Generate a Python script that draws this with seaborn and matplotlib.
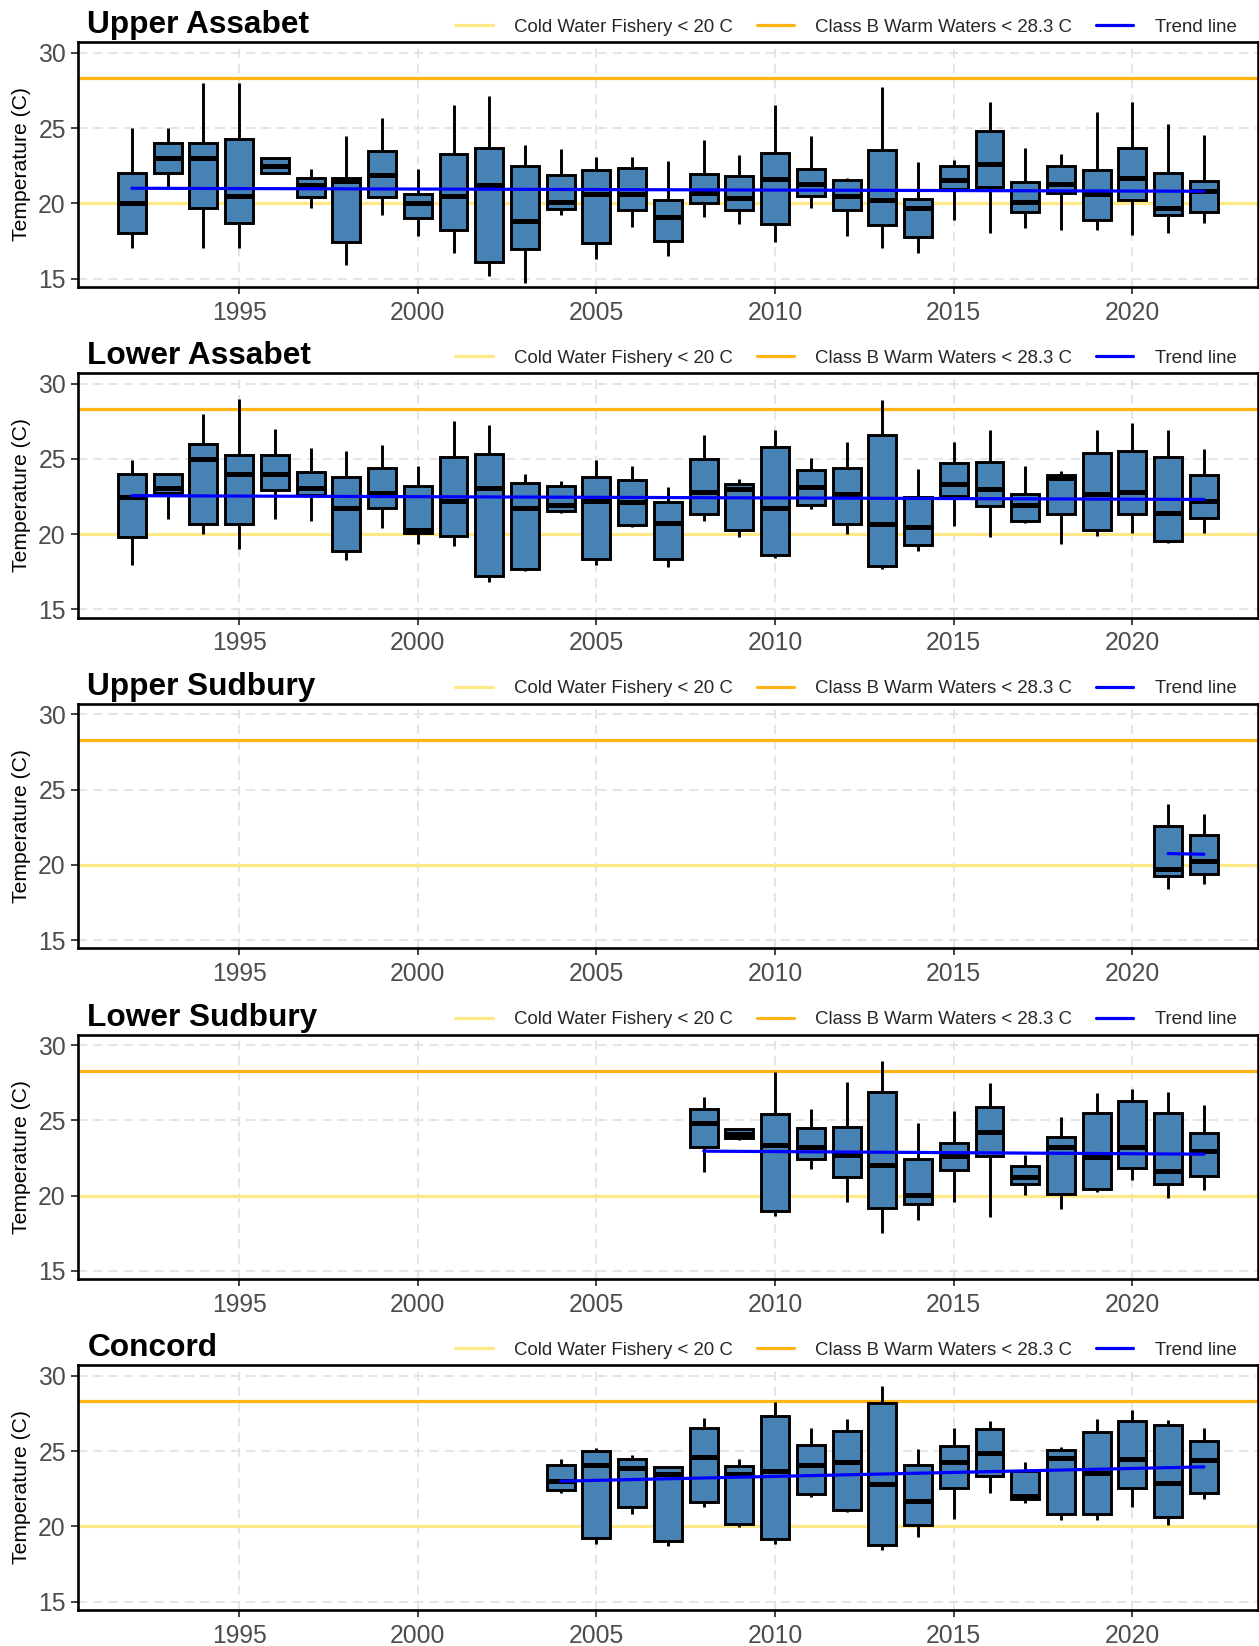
"""
Water temperature by year at five river sites.
Box = summer temperature distribution per year, with standards and a trend line.
"""

import numpy as np
import pandas as pd
import matplotlib
matplotlib.use('Agg')
import matplotlib.pyplot as plt
from matplotlib.lines import Line2D
import seaborn as sns

# --- 1. Data ---
# each row: [low whisker, q1, median, q3, high whisker]
site_names = ['Upper Assabet', 'Lower Assabet', 'Upper Sudbury', 'Lower Sudbury', 'Concord']

upper_assabet_start = 1992
upper_assabet_stats = [
    [17.0, 18.0, 20.0, 22.0, 25.0], [21.0, 22.0, 23.0, 24.0, 25.0],
    [17.0, 19.7, 23.0, 24.0, 28.0], [17.0, 18.7, 20.5, 24.3, 28.0],
    [22.0, 22.0, 22.5, 23.0, 23.0], [19.7, 20.4, 21.2, 21.7, 22.3],
    [15.9, 17.4, 21.5, 21.7, 24.5], [19.2, 20.4, 21.9, 23.5, 25.7],
    [17.8, 19.0, 20.0, 20.6, 22.3], [16.7, 18.2, 20.5, 23.3, 26.5],
    [15.2, 16.1, 21.2, 23.7, 27.1], [14.7, 16.95, 18.8, 22.5, 23.85],
    [19.2, 19.6, 20.1, 21.85, 23.6], [16.3, 17.35, 20.65, 22.2, 23.1],
    [18.4, 19.55, 20.65, 22.35, 23.05], [16.5, 17.5, 19.1, 20.25, 22.8],
    [19.1, 20.0, 20.7, 21.95, 24.2], [18.6, 19.55, 20.35, 21.8, 23.2],
    [17.4, 18.6, 21.6, 23.35, 26.5], [19.7, 20.5, 21.3, 22.3, 24.5],
    [17.8, 19.55, 20.5, 21.55, 21.7], [17.0, 18.55, 20.25, 23.55, 27.7],
    [16.7, 17.75, 19.7, 20.3, 22.75], [18.9, 20.95, 21.55, 22.5, 22.9],
    [18.0, 21.1, 22.6, 24.8, 26.7], [18.35, 19.4, 20.1, 21.4, 23.65],
    [18.2, 20.7, 21.3, 22.5, 23.3], [18.2, 18.9, 20.65, 22.2, 26.1],
    [17.9, 20.2, 21.7, 23.7, 26.7], [18.0, 19.2, 19.7, 22.0, 25.3],
    [18.7, 19.4, 20.8, 21.5, 24.55],
]
upper_assabet_trend = [21.0, 20.8]

lower_assabet_start = 1992
lower_assabet_stats = [
    [17.95, 19.8, 22.45, 24.0, 24.95], [21.0, 22.7, 23.05, 24.0, 24.0],
    [20.0, 20.7, 25.0, 26.0, 28.0], [19.0, 20.7, 24.0, 25.25, 29.0],
    [21.0, 22.9, 24.0, 25.25, 27.0], [20.9, 22.6, 23.05, 24.15, 25.75],
    [18.3, 18.9, 21.75, 23.8, 25.55], [20.4, 21.75, 22.7, 24.4, 25.95],
    [19.35, 20.1, 20.25, 23.2, 24.5], [19.2, 19.85, 22.2, 25.1, 27.5],
    [16.8, 17.2, 23.05, 25.35, 27.25], [17.55, 17.65, 21.75, 23.4, 24.0],
    [21.4, 21.5, 21.9, 23.2, 23.55], [17.95, 18.35, 22.2, 23.8, 24.95],
    [20.45, 20.6, 22.1, 23.6, 24.5], [17.8, 18.35, 20.75, 22.1, 23.15],
    [20.9, 21.3, 22.8, 25.0, 26.55], [19.8, 20.25, 23.0, 23.35, 23.65],
    [18.4, 18.6, 21.75, 25.8, 26.9], [21.65, 21.95, 23.1, 24.25, 25.05],
    [20.0, 20.65, 22.65, 24.4, 26.1], [17.65, 17.9, 20.7, 26.55, 28.9],
    [18.85, 19.3, 20.45, 22.45, 24.3], [20.55, 22.55, 23.35, 24.7, 26.1],
    [19.8, 21.85, 23.0, 24.8, 26.9], [20.75, 20.9, 21.9, 22.65, 24.5],
    [19.35, 21.3, 23.7, 23.9, 24.2], [19.85, 20.25, 22.65, 25.4, 26.9],
    [20.1, 21.3, 22.8, 25.5, 27.35], [19.4, 19.55, 21.4, 25.1, 26.9],
    [20.1, 21.05, 22.2, 23.9, 25.65],
]
lower_assabet_trend = [22.55, 22.3]

upper_sudbury_start = 2021
upper_sudbury_stats = [
    [18.4, 19.25, 19.75, 22.6, 24.05], [18.75, 19.4, 20.25, 22.0, 23.35],
]
upper_sudbury_trend = [20.75, 20.7]

lower_sudbury_start = 2008
lower_sudbury_stats = [
    [21.55, 23.2, 24.85, 25.75, 26.55], [23.7, 23.85, 24.1, 24.4, 24.4],
    [18.65, 18.95, 23.35, 25.4, 28.2], [21.75, 22.4, 23.25, 24.5, 25.75],
    [19.55, 21.2, 22.7, 24.55, 27.55], [17.5, 19.2, 22.0, 26.9, 28.95],
    [18.4, 19.45, 20.05, 22.4, 24.8], [19.55, 21.7, 22.6, 23.5, 25.6],
    [18.55, 22.6, 24.25, 25.9, 27.45], [20.05, 20.75, 21.2, 21.95, 22.7],
    [19.1, 20.1, 23.25, 23.9, 25.2], [20.25, 20.45, 22.55, 25.5, 26.8],
    [21.05, 21.8, 23.25, 26.3, 27.05], [19.85, 20.8, 21.6, 25.5, 26.9],
    [20.35, 21.3, 22.95, 24.15, 26.05],
]
lower_sudbury_trend = [22.95, 22.75]

concord_start = 2004
concord_stats = [
    [22.2, 22.4, 23.0, 24.05, 24.5], [18.8, 19.2, 24.05, 25.0, 25.2],
    [20.85, 21.3, 23.9, 24.45, 24.75], [18.7, 19.0, 23.45, 23.95, 23.95],
    [21.25, 21.6, 24.6, 26.5, 27.2], [19.95, 20.15, 23.45, 24.0, 24.45],
    [18.8, 19.15, 23.7, 27.3, 28.25], [21.95, 22.15, 24.1, 25.4, 26.5],
    [20.95, 21.1, 24.3, 26.35, 27.15], [18.45, 18.75, 22.8, 28.2, 29.35],
    [19.3, 20.1, 21.65, 24.05, 25.15], [20.5, 22.55, 24.3, 25.35, 26.5],
    [22.2, 23.35, 24.85, 26.45, 27.0], [21.55, 21.8, 22.0, 23.65, 24.25],
    [20.45, 20.8, 24.55, 25.1, 25.3], [20.4, 20.8, 23.55, 26.3, 27.15],
    [21.3, 22.55, 24.45, 27.0, 27.75], [20.1, 20.65, 22.9, 26.7, 27.05],
    [21.8, 22.2, 24.4, 25.65, 26.5],
]
concord_trend = [23.0, 23.95]

site_starts = [upper_assabet_start, lower_assabet_start, upper_sudbury_start,
               lower_sudbury_start, concord_start]
site_stats = [upper_assabet_stats, lower_assabet_stats, upper_sudbury_stats,
              lower_sudbury_stats, concord_stats]
site_trends = [upper_assabet_trend, lower_assabet_trend, upper_sudbury_trend,
               lower_sudbury_trend, concord_trend]

COLD_LIMIT = 20.0
WARM_LIMIT = 28.3
cold_label = 'Cold Water Fishery < 20 C'
warm_label = 'Class B Warm Waters < 28.3 C'
trend_label = 'Trend line'

# colours
BOX_FILL = '#4682B4'
COLD_COLOR = '#FFE985'
WARM_COLOR = '#FFB414'
TREND_COLOR = '#0000FF'
TICK_GREY = '#4D4D4D'


def to_long(start, stats):
    """Five summary values per year -> long table (q1/median/q3 land exactly)."""
    rows = []
    for i, vals in enumerate(stats):
        for v in vals:
            rows.append({'Year': start + i, 'Temp': v})
    return pd.DataFrame(rows)


# --- 2. Plot ---
sns.set_theme(style='white')
plt.rcParams['font.family'] = ['Liberation Sans', 'DejaVu Sans']

W, H = 1259, 1646
fig = plt.figure(figsize=(W / 100, H / 100), dpi=100)

left_px, right_px = 78.3, 1257.5
top0_px, step_px, height_px = 42.3, 330.75, 244.5

for i, name in enumerate(site_names):
    top_px = top0_px + i * step_px
    ax = fig.add_axes([left_px / W, 1 - (top_px + height_px) / H,
                       (right_px - left_px) / W, height_px / H])

    # grid + standards
    ax.set_axisbelow(True)
    ax.grid(True, linestyle=(0, (6, 4)), color='#DEDEDE', linewidth=1.1)
    ax.axhline(COLD_LIMIT, color=COLD_COLOR, linewidth=2.3, zorder=1.5)
    ax.axhline(WARM_LIMIT, color=WARM_COLOR, linewidth=2.3, zorder=1.5)

    df = to_long(site_starts[i], site_stats[i])
    sns.boxplot(data=df, x='Year', y='Temp', native_scale=True, width=0.78,
                color=BOX_FILL, saturation=1, linecolor='black', linewidth=2.1,
                whis=np.inf, showcaps=False,
                medianprops={'linewidth': 3.6, 'color': 'black'}, ax=ax)

    n = len(site_stats[i])
    trend_x = [site_starts[i], site_starts[i] + n - 1]
    sns.lineplot(x=trend_x, y=site_trends[i], color=TREND_COLOR,
                 linewidth=2.3, ax=ax, zorder=5)

    ax.set_xlim(1990.5, 2023.5)
    ax.set_ylim(14.45, 30.7)
    ax.set_xticks([1995, 2000, 2005, 2010, 2015, 2020])
    ax.set_yticks([15, 20, 25, 30])
    ax.tick_params(axis='both', labelsize=17.8, colors='#333333',
                   labelcolor=TICK_GREY, length=5, width=1.3, pad=4)
    ax.tick_params(axis='x', bottom=True, pad=5)
    ax.tick_params(axis='y', left=True)
    for sp in ax.spines.values():
        sp.set_color('black')
        sp.set_linewidth(1.9)

    ax.set_xlabel('')
    ax.set_ylabel('Temperature (C)', fontsize=15.2, color='black')
    ax.yaxis.set_label_coords(-0.0405, 0.5)

    ax.text(0.0077, 1.037, name, transform=ax.transAxes, fontsize=22.8,
            fontweight='bold', ha='left', va='baseline', color='black')

    handles = [Line2D([], [], color=COLD_COLOR, linewidth=2.3),
               Line2D([], [], color=WARM_COLOR, linewidth=2.3),
               Line2D([], [], color=TREND_COLOR, linewidth=2.3)]
    ax.legend(handles, [cold_label, warm_label, trend_label], ncol=3,
              loc='center right', bbox_to_anchor=(0.9885, 1.061),
              frameon=False, fontsize=13.45, handlelength=2.0,
              handletextpad=1.15, columnspacing=1.25, borderaxespad=0,
              borderpad=0.4)

plt.savefig('out.png', dpi=100)
plt.close()
print("Saved out.png")
